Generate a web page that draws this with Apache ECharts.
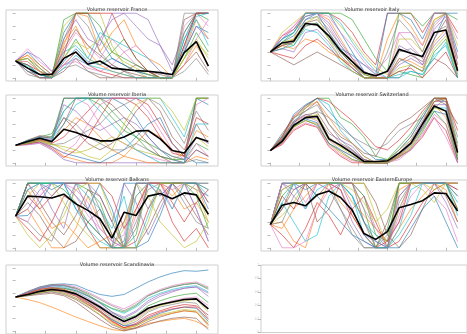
<!DOCTYPE html>
<html>
<head>
<meta charset="utf-8">
<script src="https://cdn.jsdelivr.net/npm/echarts@6/dist/echarts.min.js"></script>
<style>
  html, body { margin: 0; padding: 0; background: #fff; }
  #chart { width: 467px; height: 334px; }
</style>
</head>
<body>
<div id="chart"></div>
<script>
// weeks sampled every 4, normalised reservoir volume 0..100
const weeks = [0, 4, 8, 12, 16, 20, 24, 28, 32, 36, 40, 44, 48, 52, 56, 60, 64]
const xTicks = [0, 10, 20, 30, 40, 50, 60]
const yTicks = [0, 20, 40, 60, 80, 100]
const emptyTicks = [0, 0.2, 0.4, 0.6, 0.8, 1]

const titles = [
  'Volume reservoir France', 'Volume reservoir Italy',
  'Volume reservoir Iberia', 'Volume reservoir Switzerland',
  'Volume reservoir Balkans', 'Volume reservoir EasternEurope',
  'Volume reservoir Scandinavia'
]

const franceMean = [26, 15, 5, 5, 30, 40, 21, 26, 15, 13, 11, 10, 8, 5, 39, 56, 18]
const franceRuns = [
  [26, 40, 20, 5, 70, 100, 100, 60, 30, 20, 10, 5, 0, 0, 60, 100, 100],
  [26, 35, 15, 0, 50, 100, 95, 40, 70, 90, 50, 30, 20, 0, 40, 90, 60],
  [26, 20, 5, 0, 30, 60, 30, 20, 40, 60, 30, 10, 0, 0, 30, 70, 40],
  [26, 10, 0, 0, 20, 40, 20, 10, 5, 0, 0, 0, 0, 0, 50, 100, 100],
  [26, 30, 10, 5, 60, 90, 60, 50, 100, 100, 80, 60, 50, 20, 70, 100, 100],
  [26, 15, 0, 0, 10, 30, 10, 0, 0, 10, 20, 10, 5, 0, 20, 40, 10],
  [26, 45, 25, 10, 40, 70, 50, 30, 60, 40, 20, 10, 0, 0, 80, 100, 80],
  [26, 5, 0, 0, 15, 20, 10, 5, 0, 0, 0, 0, 0, 0, 10, 30, 5],
  [26, 25, 10, 0, 80, 100, 100, 100, 50, 20, 10, 0, 0, 0, 30, 60, 30],
  [26, 20, 5, 0, 40, 50, 30, 70, 60, 50, 40, 30, 10, 0, 60, 90, 50],
  [26, 10, 5, 0, 25, 45, 25, 20, 30, 20, 10, 5, 0, 0, 40, 80, 70],
  [26, 35, 20, 5, 55, 80, 40, 20, 10, 5, 0, 0, 0, 0, 20, 50, 20],
  [26, 30, 15, 0, 90, 100, 100, 80, 40, 30, 20, 10, 0, 0, 70, 100, 90],
  [26, 20, 10, 0, 35, 100, 100, 100, 100, 60, 30, 10, 0, 0, 50, 100, 100],
  [26, 40, 30, 10, 20, 30, 20, 60, 90, 100, 100, 90, 50, 10, 40, 80, 60],
  [26, 15, 5, 0, 45, 75, 50, 35, 20, 10, 5, 0, 0, 0, 90, 100, 100],
  [26, 25, 10, 0, 20, 25, 15, 10, 20, 40, 50, 30, 10, 0, 20, 60, 90],
  [26, 10, 0, 0, 60, 100, 80, 40, 20, 10, 0, 0, 0, 0, 100, 100, 100],
  [26, 30, 10, 0, 30, 55, 45, 60, 40, 25, 15, 5, 0, 0, 30, 55, 35],
  [26, 18, 5, 0, 15, 35, 20, 15, 10, 5, 0, 0, 0, 0, 45, 95, 100]
]

const italyMean = [40, 54, 57, 84, 82, 65, 42, 25, 8, 3, 10, 44, 38, 33, 70, 74, 11]
const italyRuns = [
  [40, 60, 70, 95, 100, 100, 70, 40, 10, 0, 0, 30, 20, 10, 60, 100, 40],
  [40, 50, 60, 100, 100, 90, 60, 30, 5, 0, 60, 100, 80, 50, 90, 100, 20],
  [40, 55, 50, 80, 85, 60, 40, 20, 5, 0, 0, 10, 5, 0, 40, 60, 0],
  [40, 65, 75, 100, 100, 100, 90, 70, 40, 20, 100, 100, 100, 70, 100, 100, 70],
  [40, 45, 40, 70, 75, 55, 30, 15, 0, 0, 0, 20, 30, 20, 50, 70, 5],
  [40, 30, 20, 30, 40, 30, 20, 10, 0, 0, 0, 0, 20, 10, 30, 20, 0],
  [40, 60, 80, 100, 100, 80, 50, 30, 20, 10, 30, 70, 50, 30, 80, 100, 30],
  [40, 50, 55, 90, 95, 75, 50, 25, 0, 0, 0, 40, 45, 30, 70, 80, 10],
  [40, 70, 85, 100, 100, 100, 80, 60, 35, 15, 5, 60, 60, 40, 90, 100, 50],
  [40, 45, 50, 75, 70, 50, 25, 10, 0, 0, 0, 5, 10, 5, 35, 50, 0],
  [40, 55, 65, 90, 100, 70, 45, 35, 20, 5, 100, 100, 90, 60, 100, 100, 100],
  [40, 50, 45, 60, 55, 40, 30, 20, 10, 0, 0, 30, 25, 15, 55, 75, 15],
  [40, 55, 70, 100, 100, 100, 100, 90, 60, 30, 10, 100, 100, 80, 100, 100, 90],
  [40, 35, 30, 50, 60, 45, 30, 15, 0, 0, 0, 10, 15, 0, 20, 40, 0],
  [40, 60, 75, 95, 100, 85, 55, 30, 10, 0, 0, 50, 40, 20, 75, 95, 20],
  [40, 50, 55, 85, 90, 70, 40, 20, 0, 0, 0, 25, 35, 25, 60, 90, 10],
  [40, 65, 80, 100, 100, 95, 70, 50, 25, 5, 0, 70, 70, 50, 100, 100, 60],
  [40, 45, 55, 80, 85, 65, 35, 15, 0, 0, 40, 90, 70, 40, 85, 100, 30],
  [40, 55, 60, 85, 95, 60, 30, 10, 0, 0, 0, 15, 20, 10, 45, 65, 5],
  [40, 60, 70, 100, 100, 100, 85, 55, 30, 10, 0, 0, 10, 5, 30, 55, 0]
]

const iberiaMean = [27, 33, 38, 33, 52, 47, 40, 34, 34, 40, 49, 50, 37, 19, 15, 39, 33]
const iberiaRuns = [
  [27, 35, 40, 30, 100, 100, 100, 100, 100, 90, 70, 40, 20, 5, 0, 100, 90],
  [27, 30, 35, 25, 10, 5, 0, 0, 0, 10, 30, 50, 40, 20, 10, 50, 40],
  [27, 32, 40, 45, 80, 100, 100, 90, 70, 50, 40, 30, 20, 10, 5, 30, 20],
  [27, 30, 35, 30, 40, 60, 80, 100, 100, 100, 90, 70, 40, 15, 10, 100, 100],
  [27, 28, 30, 20, 5, 0, 0, 0, 0, 0, 0, 0, 0, 0, 0, 20, 10],
  [27, 35, 42, 40, 70, 50, 30, 20, 30, 50, 80, 100, 80, 40, 20, 60, 30],
  [27, 33, 38, 35, 100, 100, 90, 60, 40, 30, 20, 10, 5, 0, 0, 30, 10],
  [27, 29, 33, 28, 30, 40, 50, 60, 80, 90, 100, 100, 90, 60, 30, 80, 50],
  [27, 31, 36, 30, 20, 15, 20, 30, 40, 30, 20, 15, 10, 5, 15, 40, 25],
  [27, 34, 40, 38, 60, 90, 100, 100, 100, 100, 100, 100, 100, 70, 40, 100, 100],
  [27, 30, 32, 25, 15, 10, 5, 0, 10, 20, 40, 60, 70, 30, 10, 0, 0],
  [27, 32, 37, 33, 50, 70, 60, 40, 20, 10, 5, 0, 0, 0, 0, 10, 5],
  [27, 31, 38, 40, 100, 100, 100, 100, 80, 60, 40, 20, 10, 5, 5, 100, 100],
  [27, 29, 32, 22, 8, 20, 40, 70, 100, 100, 100, 90, 60, 30, 10, 70, 60],
  [27, 33, 40, 36, 90, 80, 60, 50, 60, 70, 60, 40, 20, 10, 5, 40, 30],
  [27, 30, 36, 32, 60, 100, 100, 100, 90, 70, 50, 30, 10, 0, 0, 20, 10],
  [27, 28, 31, 24, 15, 30, 60, 90, 100, 100, 100, 80, 50, 20, 5, 90, 100],
  [27, 34, 41, 38, 70, 60, 40, 30, 20, 20, 30, 20, 10, 5, 0, 5, 0],
  [27, 30, 34, 28, 25, 20, 10, 5, 20, 60, 90, 100, 100, 80, 50, 100, 100],
  [27, 32, 38, 34, 80, 100, 100, 80, 60, 40, 20, 10, 0, 0, 0, 60, 60]
]

const switzerlandMean = [19, 33, 58, 70, 72, 37, 27, 15, 2, 2, 3, 15, 30, 60, 88, 80, 16]
const switzerlandRuns = [
  [19, 40, 75, 90, 100, 80, 60, 40, 20, 5, 5, 20, 40, 70, 100, 100, 0],
  [19, 30, 55, 65, 60, 30, 15, 5, 0, 0, 0, 10, 25, 55, 90, 70, 5],
  [19, 35, 60, 85, 100, 100, 70, 60, 40, 10, 5, 25, 45, 75, 100, 100, 30],
  [19, 28, 50, 60, 55, 25, 10, 0, 0, 0, 0, 10, 20, 40, 70, 50, 0],
  [19, 38, 65, 75, 70, 45, 35, 25, 5, 0, 0, 15, 35, 65, 95, 95, 20],
  [19, 45, 70, 80, 95, 60, 40, 30, 15, 10, 40, 60, 70, 85, 100, 90, 60],
  [19, 32, 62, 72, 65, 35, 20, 10, 0, 0, 0, 5, 20, 45, 70, 40, 0],
  [19, 36, 58, 70, 80, 70, 55, 40, 30, 20, 30, 50, 60, 70, 85, 100, 40],
  [19, 30, 55, 70, 75, 40, 25, 15, 0, 0, 5, 20, 35, 60, 100, 100, 10],
  [19, 42, 68, 88, 100, 90, 50, 30, 10, 0, 0, 15, 30, 55, 85, 85, 10],
  [19, 34, 60, 68, 62, 30, 20, 10, 0, 0, 0, 12, 28, 52, 80, 75, 5],
  [19, 38, 70, 85, 95, 70, 45, 30, 10, 0, 0, 12, 30, 60, 95, 100, 20],
  [19, 33, 56, 66, 58, 30, 18, 5, 0, 0, 0, 8, 22, 48, 80, 60, 5],
  [19, 40, 72, 88, 100, 95, 80, 65, 45, 25, 20, 35, 55, 80, 100, 100, 50],
  [19, 31, 57, 69, 70, 38, 28, 18, 5, 0, 0, 10, 28, 55, 90, 90, 10],
  [19, 37, 63, 74, 78, 50, 30, 20, 5, 0, 0, 15, 32, 62, 95, 100, 15],
  [19, 29, 52, 62, 56, 28, 12, 3, 0, 0, 0, 8, 20, 42, 75, 60, 0],
  [19, 36, 64, 80, 90, 60, 35, 20, 0, 0, 0, 20, 40, 70, 100, 95, 25],
  [19, 33, 58, 70, 68, 36, 24, 12, 0, 0, 0, 10, 24, 50, 85, 80, 10]
]

const balkansMean = [49, 80, 79, 77, 83, 68, 58, 45, 15, 55, 50, 80, 84, 76, 85, 82, 52]
const balkansRuns = [
  [49, 100, 100, 90, 100, 60, 40, 20, 0, 100, 100, 100, 80, 100, 100, 100, 60],
  [49, 60, 30, 0, 0, 30, 80, 40, 0, 0, 60, 100, 100, 90, 60, 70, 40],
  [49, 100, 100, 100, 100, 100, 90, 70, 20, 0, 20, 100, 100, 100, 100, 100, 100],
  [49, 30, 10, 40, 80, 70, 30, 0, 0, 0, 10, 60, 90, 40, 10, 30, 0],
  [49, 90, 100, 60, 30, 100, 100, 80, 40, 100, 70, 20, 60, 100, 100, 90, 80],
  [49, 70, 50, 20, 0, 10, 40, 60, 20, 0, 0, 30, 70, 100, 80, 50, 20],
  [49, 100, 80, 100, 100, 90, 70, 30, 10, 20, 100, 100, 100, 60, 100, 100, 70],
  [49, 40, 20, 10, 60, 100, 100, 60, 10, 0, 40, 90, 100, 100, 70, 40, 30],
  [49, 80, 100, 100, 70, 40, 20, 0, 0, 30, 100, 80, 40, 20, 0, 10, 40],
  [49, 100, 100, 100, 100, 100, 80, 60, 30, 80, 0, 50, 100, 100, 100, 100, 90],
  [49, 50, 70, 100, 100, 80, 60, 100, 60, 0, 0, 10, 50, 100, 100, 60, 10],
  [49, 90, 60, 30, 40, 20, 0, 10, 20, 40, 80, 100, 100, 80, 100, 100, 50],
  [49, 100, 100, 100, 90, 70, 40, 20, 0, 0, 100, 100, 100, 100, 100, 80, 30],
  [49, 80, 60, 80, 100, 100, 100, 100, 80, 30, 60, 100, 100, 70, 40, 70, 90],
  [49, 60, 90, 100, 100, 100, 60, 20, 0, 10, 100, 100, 80, 100, 100, 100, 100],
  [49, 100, 70, 40, 20, 50, 90, 80, 40, 0, 30, 100, 100, 100, 100, 100, 70],
  [49, 40, 80, 100, 100, 80, 50, 30, 10, 0, 50, 100, 100, 90, 100, 60, 10],
  [49, 100, 100, 80, 100, 100, 100, 40, 0, 40, 100, 60, 100, 100, 80, 100, 90],
  [49, 20, 0, 20, 50, 90, 100, 100, 50, 0, 0, 40, 100, 100, 100, 90, 40],
  [49, 90, 100, 100, 100, 60, 30, 10, 0, 0, 80, 100, 90, 60, 100, 100, 80]
]

const easternMean = [36, 66, 70, 65, 82, 88, 78, 58, 22, 13, 25, 62, 67, 73, 85, 84, 57]
const easternRuns = [
  [36, 100, 100, 90, 100, 100, 100, 80, 40, 10, 0, 100, 100, 100, 100, 100, 80],
  [36, 40, 10, 0, 60, 100, 70, 50, 20, 0, 0, 30, 60, 80, 100, 90, 40],
  [36, 80, 100, 100, 100, 100, 100, 100, 60, 0, 30, 100, 100, 100, 100, 100, 100],
  [36, 20, 0, 30, 70, 50, 20, 60, 80, 40, 0, 10, 40, 70, 90, 100, 60],
  [36, 100, 80, 60, 100, 100, 90, 40, 10, 0, 0, 60, 100, 100, 100, 70, 30],
  [36, 60, 90, 100, 40, 60, 100, 100, 100, 70, 20, 0, 20, 60, 100, 100, 100],
  [36, 0, 0, 10, 60, 90, 100, 100, 80, 30, 10, 40, 80, 100, 80, 60, 10],
  [36, 90, 100, 100, 100, 90, 60, 30, 0, 0, 20, 80, 100, 100, 100, 100, 90],
  [36, 50, 70, 100, 100, 100, 100, 100, 100, 50, 0, 60, 100, 90, 70, 100, 100],
  [36, 70, 40, 10, 20, 80, 100, 80, 40, 20, 0, 20, 50, 100, 100, 100, 70],
  [36, 100, 100, 100, 80, 60, 40, 20, 10, 0, 0, 0, 30, 60, 80, 40, 0],
  [36, 30, 60, 80, 100, 100, 100, 70, 50, 30, 10, 90, 100, 100, 100, 100, 100],
  [36, 100, 100, 100, 100, 100, 100, 100, 80, 20, 10, 100, 100, 100, 100, 100, 60],
  [36, 80, 60, 100, 100, 100, 90, 50, 20, 0, 10, 40, 100, 100, 100, 100, 90],
  [36, 100, 90, 100, 100, 100, 100, 60, 20, 10, 0, 80, 100, 100, 100, 100, 100],
  [36, 60, 100, 100, 80, 100, 100, 100, 40, 0, 40, 100, 100, 100, 100, 80, 40],
  [36, 100, 100, 70, 100, 90, 100, 100, 60, 30, 0, 50, 100, 100, 100, 100, 100],
  [36, 40, 80, 100, 100, 100, 60, 20, 0, 0, 0, 70, 100, 100, 100, 100, 80],
  [36, 90, 100, 100, 100, 100, 100, 90, 70, 40, 60, 100, 100, 100, 90, 100, 100],
  [36, 70, 100, 60, 90, 100, 100, 80, 20, 0, 0, 30, 90, 100, 100, 100, 50]
]

const scandinaviaMean = [54, 58, 63, 66, 64, 59, 49, 38, 25, 15, 23, 36, 42, 46, 50, 51, 35]
const scandinaviaRuns = [
  [54, 62, 70, 74, 75, 73, 65, 58, 55, 58, 68, 78, 86, 92, 96, 95, 97],
  [54, 50, 45, 38, 30, 22, 15, 8, 2, 0, 5, 12, 15, 18, 20, 15, 5],
  [54, 60, 68, 72, 72, 68, 58, 45, 30, 18, 25, 40, 48, 54, 58, 60, 45],
  [54, 58, 62, 65, 62, 55, 42, 30, 15, 5, 12, 25, 32, 38, 42, 40, 25],
  [54, 61, 67, 70, 68, 62, 52, 40, 28, 20, 30, 45, 55, 62, 68, 70, 60],
  [54, 57, 60, 62, 58, 50, 38, 25, 10, 2, 5, 15, 22, 28, 32, 30, 10],
  [54, 62, 69, 73, 74, 70, 62, 52, 42, 35, 45, 58, 66, 72, 76, 78, 70],
  [54, 56, 60, 63, 60, 52, 42, 30, 18, 8, 15, 30, 38, 42, 46, 44, 20],
  [54, 59, 65, 68, 66, 60, 48, 35, 20, 10, 18, 32, 40, 45, 48, 50, 30],
  [54, 61, 68, 72, 70, 64, 55, 45, 35, 28, 38, 52, 60, 66, 70, 72, 62],
  [54, 57, 62, 66, 63, 56, 45, 32, 18, 8, 10, 20, 28, 34, 38, 36, 15],
  [54, 60, 66, 68, 64, 56, 44, 30, 14, 4, 8, 18, 24, 28, 32, 30, 8],
  [54, 58, 64, 68, 68, 64, 56, 46, 36, 30, 40, 56, 64, 70, 74, 76, 68],
  [54, 60, 66, 69, 66, 58, 46, 32, 16, 5, 10, 22, 30, 35, 38, 38, 18],
  [54, 62, 68, 72, 72, 66, 56, 44, 30, 22, 32, 48, 58, 64, 68, 70, 55],
  [54, 56, 58, 60, 56, 46, 32, 18, 6, 0, 4, 10, 16, 20, 22, 20, 2],
  [54, 59, 64, 67, 64, 57, 47, 35, 22, 12, 20, 34, 42, 48, 52, 54, 40],
  [54, 63, 70, 74, 73, 68, 60, 50, 40, 32, 42, 56, 64, 70, 74, 76, 66],
  [54, 57, 61, 64, 60, 52, 40, 26, 12, 3, 8, 18, 26, 30, 34, 32, 12]
]

const means = [franceMean, italyMean, iberiaMean, switzerlandMean, balkansMean, easternMean, scandinaviaMean]
const runs = [franceRuns, italyRuns, iberiaRuns, switzerlandRuns, balkansRuns, easternRuns, scandinaviaRuns]

const TAB10 = ['#1f77b4', '#ff7f0e', '#2ca02c', '#d62728', '#9467bd',
  '#8c564b', '#e377c2', '#7f7f7f', '#bcbd22', '#17becf']

const COL_LEFT = [6, 261]
const ROW_TOP = [10, 95, 180, 265]
const W = 212
const H = 71

const tickStyle = { show: true, inside: false, length: 3, lineStyle: { color: '#aaa', width: 0.8 } }

const grids = []
const xAxes = []
const yAxes = []
const series = []
const titleList = []

for (let p = 0; p < 8; p++) {
  const left = COL_LEFT[p % 2]
  const top = ROW_TOP[Math.floor(p / 2)]
  grids.push({ left, top, width: W, height: H, show: true, borderColor: '#cfcfcf', borderWidth: 1, backgroundColor: '#fff' })

  if (p === 7) {
    // empty last subplot
    xAxes.push({ gridIndex: p, type: 'value', min: 0, max: 1, axisLine: { show: false },
      axisTick: { show: false }, axisLabel: { show: false }, splitLine: { show: false } })
    yAxes.push({ gridIndex: p, type: 'value', min: 0, max: 1, axisLine: { show: false },
      axisTick: { ...tickStyle, customValues: emptyTicks },
      axisLabel: { show: true, customValues: emptyTicks, fontSize: 3, color: '#bbb', margin: 2 },
      splitLine: { show: false } })
    continue
  }

  titleList.push({
    text: titles[p], left: left + W / 2, top: top - 8, textAlign: 'center',
    textStyle: { fontSize: 5, fontWeight: 'normal', color: '#333', fontFamily: 'DejaVu Sans' }
  })
  xAxes.push({ gridIndex: p, type: 'value', min: -3.2, max: 67.2, axisLine: { show: false },
    axisTick: { ...tickStyle, customValues: xTicks }, axisLabel: { show: false }, splitLine: { show: false } })
  yAxes.push({ gridIndex: p, type: 'value', min: -5, max: 105, axisLine: { show: false },
    axisTick: { ...tickStyle, customValues: yTicks }, axisLabel: { show: false }, splitLine: { show: false } })

  runs[p].forEach((run, k) => {
    series.push({
      type: 'line', xAxisIndex: p, yAxisIndex: p, silent: true, showSymbol: false,
      data: run.map((v, i) => [weeks[i], v]),
      lineStyle: { width: 0.7, color: TAB10[k % 10], opacity: 0.9 }
    })
  })
  series.push({
    type: 'line', xAxisIndex: p, yAxisIndex: p, silent: true, showSymbol: false, z: 5,
    data: means[p].map((v, i) => [weeks[i], v]),
    lineStyle: { width: 1.6, color: '#000' }
  })
}

const chart = echarts.init(document.getElementById('chart'), null, { renderer: 'canvas' })
chart.setOption({
  animation: false,
  backgroundColor: '#fff',
  title: titleList,
  grid: grids,
  xAxis: xAxes,
  yAxis: yAxes,
  series
})
</script>
</body>
</html>
